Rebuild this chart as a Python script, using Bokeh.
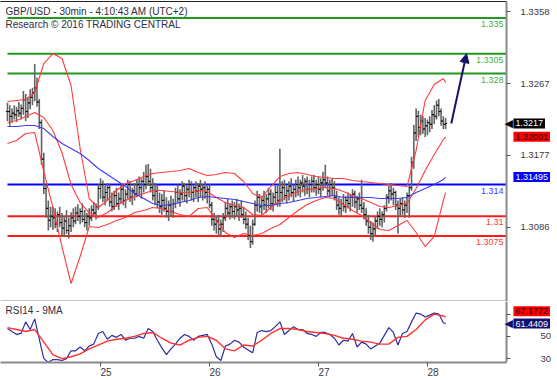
from bokeh.plotting import figure
from bokeh.layouts import column
from bokeh.models import Range1d, FixedTicker, Label, Arrow, NormalHead, LinearAxis
from bokeh.embed import file_html
from bokeh.resources import INLINE
from bokeh.core.properties import value

FONT = "Liberation Sans"

# ---------------- data (30-min GBP/USD bars) ----------------
high = [1.3243,1.3240,1.3236,1.3240,1.3238,1.3244,1.3241,1.3258,1.3254,1.3250,
        1.3260,1.3262,1.3292,1.3275,1.3248,1.3222,1.3180,1.3140,1.3120,1.3112,
        1.3112,1.3110,1.3106,1.3112,1.3104,1.3100,1.3108,1.3098,1.3105,1.3110,
        1.3112,1.3115,1.3110,1.3116,1.3108,1.3104,1.3110,1.3114,1.3118,1.3116,
        1.3140,1.3148,1.3145,1.3138,1.3142,1.3140,1.3130,1.3132,1.3136,1.3130,
        1.3140,1.3138,1.3134,1.3146,1.3144,1.3136,1.3142,1.3146,1.3150,1.3148,
        1.3156,1.3165,1.3166,1.3160,1.3148,1.3142,1.3140,1.3130,1.3128,1.3132,
        1.3124,1.3120,1.3126,1.3122,1.3136,1.3140,1.3134,1.3144,1.3142,1.3138,
        1.3146,1.3144,1.3140,1.3144,1.3142,1.3146,1.3140,1.3144,1.3138,1.3140,
        1.3118,1.3104,1.3100,1.3102,1.3096,1.3104,1.3118,1.3122,1.3116,1.3120,
        1.3118,1.3122,1.3116,1.3120,1.3112,1.3106,1.3098,1.3088,1.3096,1.3120,
        1.3132,1.3128,1.3126,1.3132,1.3128,1.3136,1.3134,1.3130,1.3138,1.3140,
        1.3185,1.3144,1.3146,1.3138,1.3144,1.3148,1.3140,1.3146,1.3150,1.3146,
        1.3152,1.3148,1.3150,1.3146,1.3150,1.3152,1.3146,1.3150,1.3148,1.3156,
        1.3165,1.3150,1.3146,1.3148,1.3144,1.3132,1.3124,1.3122,1.3128,1.3126,
        1.3130,1.3128,1.3134,1.3132,1.3126,1.3130,1.3146,1.3118,1.3110,1.3102,
        1.3094,1.3092,1.3100,1.3106,1.3110,1.3106,1.3114,1.3128,1.3138,1.3142,
        1.3136,1.3132,1.3120,1.3122,1.3124,1.3120,1.3130,1.3140,1.3175,1.3215,
        1.3236,1.3233,1.3228,1.3226,1.3224,1.3222,1.3226,1.3234,1.3240,1.3246,
        1.3248,1.3236,1.3226,1.3224]
low = [1.3220,1.3214,1.3218,1.3222,1.3219,1.3225,1.3222,1.3228,1.3220,1.3224,
       1.3235,1.3240,1.3245,1.3238,1.3210,1.3165,1.3128,1.3098,1.3082,1.3086,
       1.3083,1.3085,1.3080,1.3086,1.3075,1.3074,1.3078,1.3072,1.3080,1.3086,
       1.3090,1.3094,1.3090,1.3092,1.3086,1.3082,1.3088,1.3094,1.3100,1.3096,
       1.3108,1.3122,1.3118,1.3114,1.3120,1.3112,1.3106,1.3108,1.3112,1.3108,
       1.3116,1.3114,1.3110,1.3122,1.3118,1.3114,1.3120,1.3124,1.3126,1.3122,
       1.3130,1.3134,1.3138,1.3130,1.3120,1.3114,1.3110,1.3104,1.3102,1.3106,
       1.3098,1.3094,1.3100,1.3098,1.3110,1.3116,1.3112,1.3120,1.3118,1.3116,
       1.3124,1.3120,1.3118,1.3124,1.3118,1.3124,1.3120,1.3122,1.3116,1.3110,
       1.3088,1.3082,1.3078,1.3076,1.3074,1.3080,1.3094,1.3100,1.3096,1.3098,
       1.3096,1.3100,1.3094,1.3098,1.3090,1.3084,1.3070,1.3060,1.3064,1.3088,
       1.3106,1.3104,1.3102,1.3108,1.3104,1.3110,1.3108,1.3106,1.3114,1.3112,
       1.3112,1.3118,1.3120,1.3116,1.3120,1.3124,1.3118,1.3124,1.3126,1.3124,
       1.3130,1.3126,1.3128,1.3124,1.3130,1.3130,1.3126,1.3128,1.3124,1.3132,
       1.3136,1.3126,1.3124,1.3126,1.3120,1.3108,1.3102,1.3100,1.3106,1.3104,
       1.3110,1.3106,1.3112,1.3110,1.3104,1.3108,1.3104,1.3096,1.3088,1.3078,
       1.3070,1.3068,1.3076,1.3084,1.3088,1.3086,1.3092,1.3106,1.3116,1.3120,
       1.3114,1.3108,1.3078,1.3100,1.3102,1.3098,1.3104,1.3098,1.3132,1.3160,
       1.3195,1.3200,1.3202,1.3204,1.3200,1.3202,1.3206,1.3210,1.3216,1.3222,
       1.3226,1.3214,1.3210,1.3210]
close = [1.3232,1.3226,1.3230,1.3228,1.3233,1.3230,1.3236,1.3247,1.3232,1.3243,
         1.3250,1.3256,1.3262,1.3244,1.3218,1.3172,1.3135,1.3110,1.3095,1.3100,
         1.3098,1.3090,1.3102,1.3092,1.3085,1.3094,1.3082,1.3088,1.3098,1.3094,
         1.3104,1.3100,1.3106,1.3096,1.3092,1.3100,1.3098,1.3108,1.3104,1.3112,
         1.3135,1.3140,1.3124,1.3130,1.3136,1.3118,1.3112,1.3126,1.3116,1.3122,
         1.3134,1.3120,1.3128,1.3140,1.3124,1.3132,1.3128,1.3140,1.3136,1.3144,
         1.3140,1.3150,1.3144,1.3136,1.3126,1.3132,1.3118,1.3112,1.3120,1.3110,
         1.3106,1.3114,1.3106,1.3116,1.3130,1.3122,1.3128,1.3138,1.3126,1.3134,
         1.3140,1.3130,1.3136,1.3132,1.3138,1.3134,1.3136,1.3130,1.3134,1.3114,
         1.3096,1.3090,1.3094,1.3084,1.3090,1.3098,1.3110,1.3104,1.3112,1.3106,
         1.3112,1.3108,1.3110,1.3102,1.3096,1.3090,1.3076,1.3068,1.3090,1.3114,
         1.3124,1.3112,1.3120,1.3114,1.3122,1.3128,1.3116,1.3124,1.3130,1.3120,
         1.3130,1.3136,1.3126,1.3132,1.3138,1.3130,1.3134,1.3140,1.3136,1.3142,
         1.3138,1.3144,1.3134,1.3140,1.3144,1.3136,1.3140,1.3134,1.3142,1.3146,
         1.3142,1.3132,1.3140,1.3136,1.3124,1.3114,1.3110,1.3116,1.3112,1.3120,
         1.3116,1.3124,1.3128,1.3118,1.3122,1.3114,1.3110,1.3102,1.3094,1.3086,
         1.3078,1.3084,1.3094,1.3100,1.3096,1.3102,1.3110,1.3124,1.3132,1.3128,
         1.3130,1.3114,1.3110,1.3116,1.3108,1.3114,1.3126,1.3136,1.3168,1.3205,
         1.3226,1.3212,1.3220,1.3210,1.3214,1.3218,1.3216,1.3228,1.3226,1.3240,
         1.3232,1.3220,1.3216,1.3217]

# indicator readings (every 4th bar + last bar)
ind_idx = list(range(0, 193, 4)) + [193]
bb_upper = [1.32447,1.3246,1.32472,1.3256,1.32926,1.33052,1.32989,1.32649,1.31854,1.31224,
            1.3111,1.31199,1.31325,1.31413,1.31451,1.31501,1.31539,1.31552,1.31564,1.31577,
            1.31602,1.31552,1.31514,1.31526,1.31552,1.31539,1.31438,1.31287,1.31236,1.31375,
            1.31501,1.31539,1.31552,1.31526,1.31501,1.31489,1.31476,1.31476,1.31451,1.31438,
            1.31426,1.31413,1.314,1.31388,1.31375,1.31829,1.3246,1.32661,1.32737,1.32686]
bb_mid = [1.32182,1.32207,1.32258,1.32308,1.32245,1.32081,1.31804,1.314,1.31173,1.31047,
          1.30984,1.31047,1.31135,1.31199,1.31249,1.31287,1.31325,1.31325,1.31312,1.31299,
          1.31299,1.31325,1.31312,1.31236,1.31173,1.31135,1.3111,1.31022,1.31009,1.3111,
          1.31199,1.31262,1.31312,1.31337,1.3135,1.31362,1.3135,1.31312,1.31262,1.31224,
          1.31173,1.31123,1.3111,1.31135,1.31161,1.3135,1.31577,1.31779,1.31968,1.32001]
bb_lower = [1.31917,1.31955,1.32043,1.32056,1.31564,1.3111,1.30618,1.30152,1.30492,1.30871,
            1.30858,1.30896,1.30946,1.30984,1.31047,1.31072,1.3111,1.31098,1.3106,1.31022,
            1.30997,1.31098,1.3111,1.30946,1.30795,1.30732,1.30782,1.30757,1.30782,1.30845,
            1.30896,1.30984,1.31072,1.31148,1.31199,1.31236,1.31224,1.31148,1.31072,1.31009,
            1.30921,1.30833,1.3082,1.30883,1.30946,1.30795,1.30618,1.30745,1.31199,1.31299]
ma_blue = [1.32132,1.32132,1.32144,1.32144,1.32106,1.32006,1.31917,1.31854,1.31791,1.31703,
           1.31602,1.31526,1.31451,1.31375,1.31287,1.31224,1.31161,1.31135,1.31148,1.31173,
           1.31199,1.31236,1.31249,1.31236,1.31224,1.31211,1.31186,1.31161,1.31135,1.31135,
           1.31161,1.31173,1.31199,1.31224,1.31236,1.31249,1.31262,1.31236,1.31236,1.31236,
           1.31236,1.31224,1.31224,1.31224,1.31236,1.31299,1.3135,1.314,1.31463,1.31495]

rsi_idx = list(range(0, 193, 2)) + [193]
rsi = [57.0,54.3,51.7,52.6,63.0,56.1,65.7,47.4,30.0,26.5,
       29.1,29.1,28.3,30.0,37.0,37.0,40.4,37.0,41.3,43.0,
       52.6,54.3,47.4,50.9,49.1,51.7,46.5,48.3,48.3,50.0,
       48.3,57.0,54.3,46.5,39.6,33.5,38.7,43.0,48.3,51.7,
       50.0,46.5,50.0,50.9,51.7,43.0,31.7,28.3,41.3,43.0,
       46.5,44.8,40.4,37.8,35.2,53.5,55.2,54.3,55.2,58.7,
       63.0,51.7,55.2,58.7,56.1,56.1,52.6,51.7,50.0,53.5,
       53.5,51.7,48.3,42.2,46.5,45.7,52.6,40.4,44.8,43.0,
       38.7,41.3,43.9,50.9,57.8,53.5,42.2,52.6,54.3,63.0,
       70.9,70.0,67.4,69.1,70.9,70.0,62.2,61.4409]
rsi_ma = [57.8,56.1,54.3,56.1,44.8,33.5,30.0,31.7,34.3,38.7,
          42.2,45.7,47.4,48.3,50.0,52.6,53.5,48.3,43.9,42.2,
          46.5,49.1,50.0,46.5,38.7,37.0,42.2,41.3,46.5,52.6,
          57.0,57.0,56.1,54.3,53.5,52.6,50.9,48.3,47.4,45.7,
          44.8,43.0,43.0,49.1,50.0,56.1,64.8,70.0,68.3,67.1772]

levels = [1.335, 1.3305, 1.328, 1.314, 1.31, 1.3075]
level_text = ["1.335", "1.3305", "1.328", "1.314", "1.31", "1.3075"]
level_color = ["#1f9a1f", "#1f9a1f", "#1f9a1f", "#0000ff", "#ff1a1a", "#ff1a1a"]
level_text_color = ["#45b045", "#45b045", "#45b045", "#3b3bff", "#ff3b3b", "#ff3b3b"]

price_ticks = [1.3086, 1.3177, 1.3267, 1.3358]
rsi_ticks = [30, 50, 70]
day_pos = [41, 89, 137, 185]
day_labels = ["25", "26", "27", "28"]

# ---------------- layout constants ----------------
n = len(close)
idx = list(range(n))
opens = [close[0]] + close[:-1]
X0, X1 = -3.08, 242.29      # whole 557px width is the frame
AXIS_X = 219.8              # where the price / RSI scale is drawn
xr = Range1d(X0, X1)
AX_COLOR = "#8a8a8a"
LBL_COLOR = "#3a3a4a"


def style_yaxis(ax, standoff):
    ax.axis_line_color = AX_COLOR
    ax.axis_line_width = 2
    ax.major_tick_line_color = "#555555"
    ax.major_tick_in = 0
    ax.major_tick_out = 4
    ax.minor_tick_line_color = None
    ax.minor_tick_out = 0
    ax.major_label_standoff = standoff
    ax.major_label_text_font = FONT
    ax.major_label_text_font_size = "9.5px"
    ax.major_label_text_color = LBL_COLOR


def border_axis(color, width):
    a = LinearAxis(ticker=FixedTicker(ticks=[]), bounds=(X0, AXIS_X))
    a.axis_line_color = color
    a.axis_line_width = width
    a.major_tick_out = 0
    a.major_tick_in = 0
    a.minor_tick_out = 0
    a.minor_tick_in = 0
    a.major_label_standoff = 0
    return a


p1 = figure(width=557, height=301, x_range=xr, y_range=Range1d(1.29925, 1.33708),
            output_backend="svg", toolbar_location=None, x_axis_location=None,
            y_axis_location=None, min_border_left=0, min_border_right=0,
            min_border_top=1, min_border_bottom=0)
p2 = figure(width=557, height=79, x_range=xr, y_range=Range1d(26.5, 81.3),
            output_backend="svg", toolbar_location=None, y_axis_location=None,
            min_border_left=0, min_border_right=0, min_border_top=0, min_border_bottom=0)

for p in (p1, p2):
    p.grid.visible = False
    p.outline_line_color = None
    p.background_fill_color = "white"
    p.border_fill_color = "white"

p1.add_layout(border_axis("#222222", 1), "above")
p1.add_layout(border_axis(AX_COLOR, 2), "below")

ya1 = LinearAxis(fixed_location=AXIS_X, ticker=FixedTicker(ticks=price_ticks))
ya1.major_label_overrides = {t: f"{t:.4f}" for t in price_ticks}
style_yaxis(ya1, 10)
p1.add_layout(ya1, "right")

ya2 = LinearAxis(fixed_location=AXIS_X, ticker=FixedTicker(ticks=rsi_ticks))
ya2.major_label_overrides = {70: ""}
style_yaxis(ya2, 30)
p2.add_layout(ya2, "right")

xa = p2.xaxis[0]
xa.bounds = (X0, AXIS_X)
xa.ticker = FixedTicker(ticks=day_pos)
xa.major_label_overrides = {d: "\u00a0\u00a0\u00a0\u00a0" + t for d, t in zip(day_pos, day_labels)}
xa.axis_line_color = AX_COLOR
xa.axis_line_width = 2
xa.major_tick_line_color = "#555555"
xa.major_tick_in = 0
xa.major_tick_out = 4
xa.minor_tick_line_color = None
xa.minor_tick_out = 0
xa.major_label_standoff = 0
xa.major_label_text_font = FONT
xa.major_label_text_font_size = "10px"
xa.major_label_text_color = LBL_COLOR

# horizontal levels
p1.segment(x0=[idx[0]] * len(levels), y0=levels, x1=[AXIS_X] * len(levels), y1=levels,
           line_color=level_color, line_width=2)
p1.text(x=[AXIS_X] * len(levels), y=levels, text=level_text, text_align="right",
        text_baseline="top", x_offset=-3, y_offset=3, text_color=level_text_color,
        text_font=value(FONT), text_font_size="9px")

# OHLC bars
p1.segment(x0=idx, y0=low, x1=idx, y1=high, line_color="#636363", line_width=1.6)
p1.segment(x0=[i - 0.7 for i in idx], y0=opens, x1=idx, y1=opens, line_color="black", line_width=1)
p1.segment(x0=idx, y0=close, x1=[i + 0.7 for i in idx], y1=close, line_color="black", line_width=1)

# Bollinger bands + MA
for band in (bb_upper, bb_mid, bb_lower):
    p1.line(ind_idx, band, line_color="#ff3b3b", line_width=1.1)
p1.line(ind_idx, ma_blue, line_color="#3c3cf0", line_width=1.1)

# projection arrow towards the 1.3305 target
p1.add_layout(Arrow(end=NormalHead(size=9, fill_color="#141466", line_color="#141466"),
                    x_start=n + 1.5, y_start=close[-1], x_end=n + 8.2, y_end=levels[1],
                    line_color="#141466", line_width=2))

# title texts
top1 = p1.y_range.end
p1.add_layout(Label(x=5, x_units="screen", y=top1, y_offset=-4,
                    text="GBP/USD - 30min - 4:10:43 AM (UTC+2)", text_baseline="top",
                    text_font=FONT, text_font_size="10px", text_color="#2e2e3e"))
p1.add_layout(Label(x=5, x_units="screen", y=top1, y_offset=-17,
                    text="Research \u00a9 2016 TRADING CENTRAL", text_baseline="top",
                    text_font=FONT, text_font_size="10px", text_color="#2e2e3e"))


def tag(p, y, txt, bg, fg, pointer=False, dy=0):
    if pointer:
        p.add_layout(Label(x=AXIS_X, y=y, x_offset=-2, y_offset=dy, text="\u25c0",
                           text_align="left", text_baseline="middle", text_color=bg,
                           text_font="DejaVu Sans", text_font_size="11px"))
    p.add_layout(Label(x=AXIS_X, y=y, x_offset=7, y_offset=dy, text=txt, text_align="left",
                       text_baseline="middle", text_color=fg, background_fill_color=bg,
                       padding=2, text_font=FONT, text_font_size="9px"))


tag(p1, close[-1], f"{close[-1]:.4f}", "black", "white", pointer=True)
tag(p1, bb_mid[-1], f"{bb_mid[-1]:.5f}", "#ff0000", "#2a0000")
tag(p1, ma_blue[-1], f"{ma_blue[-1]:.5f}", "#0000ff", "white")

# RSI panel
p2.line(rsi_idx, rsi, line_color="#2e2e9e", line_width=1.2)
p2.line(ind_idx, rsi_ma, line_color="#ff3030", line_width=1.4)
p2.add_layout(Label(x=5, x_units="screen", y=p2.y_range.end, y_offset=-3, text="RSI14 - 9MA",
                    text_baseline="top", text_font=FONT, text_font_size="10px",
                    text_color="#2e2e3e"))
tag(p2, rsi_ma[-1], f"{rsi_ma[-1]:.4f}", "#ff0000", "#2a0000", dy=6)
tag(p2, rsi[-1], f"{rsi[-1]:.4f}", "#10106e", "white", pointer=True)

layout = column(p1, p2, spacing=0)
open("out.html", "w").write(file_html(layout, INLINE))
